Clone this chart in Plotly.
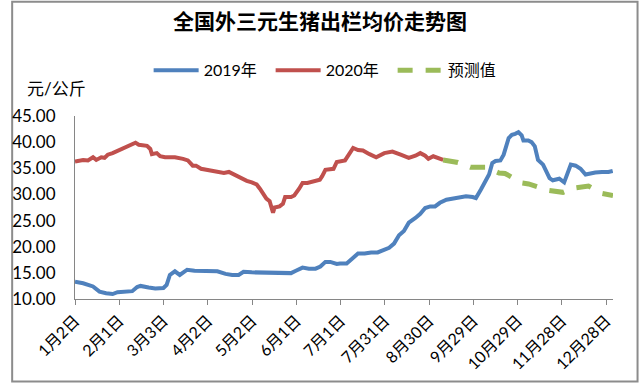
import plotly.graph_objects as go

# x = days since Jan 2
tick_days = [0, 30, 60, 90, 120, 150, 180, 210, 240, 270, 300, 330, 360]
tick_labels = ["1月2日", "2月1日", "3月3日", "4月2日", "5月2日", "6月1日", "7月1日",
               "7月31日", "8月30日", "9月29日", "10月29日", "11月28日", "12月28日"]

days_2019 = [0, 5.5, 12.2, 16.6, 21.1, 25.5, 28.8, 34.4, 38.8, 42.1, 44.4, 49.9, 54.4, 59.9,
             62.1, 64.3, 67.7, 71, 73.2, 76, 81, 87.6, 93.1, 96.5, 102, 106.5, 110.9, 114.2,
             119.8, 126.4, 130.9, 139.7, 146.4, 149.7, 154.2, 158.5, 163, 166.3, 169.7, 173,
             177.4, 179.6, 184.1, 187.4, 191.8, 196.3, 200.7, 205.1, 209.6, 212.9, 216.2,
             219.6, 222.9, 226.2, 230.7, 234, 237.3, 240.7, 244, 247.3, 251.7, 255, 259.5,
             265, 269.5, 271.7, 275, 278.3, 280.6, 282.8, 285, 288.3, 290.5, 293.9, 296.1,
             298.3, 300.5, 302.7, 303.9, 307.2, 309.4, 311.6, 313.8, 317.2, 319.4, 321.6,
             323.8, 328.2, 331.5, 333.8, 336, 339.3, 342.6, 346, 349.3, 352.6, 357.1, 361.5, 364.4]
price_2019 = [13.3, 13.0, 12.4, 11.4, 11.1, 10.95, 11.3, 11.4, 11.5, 12.3, 12.5, 12.2, 12.0, 12.1,
              12.7, 14.6, 15.3, 14.6, 15.1, 15.6, 15.4, 15.4, 15.4, 15.3, 14.8, 14.6, 14.6, 15.2,
              15.1, 15.1, 14.95, 14.95, 14.95, 15.4, 16.0, 15.8, 15.8, 16.2, 17.1, 17.1,
              16.7, 16.8, 16.8, 17.6, 18.7, 18.7, 18.9, 18.9, 19.4, 19.8, 20.6,
              22.2, 23.0, 24.6, 25.5, 26.3, 27.4, 27.7, 27.7, 28.4, 29.0, 29.2, 29.5,
              29.65, 29.5, 29.3, 30.9, 32.5, 33.8, 36.0, 36.4, 36.5, 37.6, 40.8, 41.4,
              41.6, 41.9, 41.3, 40.3, 40.3, 40.0, 39.2, 36.6, 35.7, 34.4, 33.1,
              32.7, 33.0, 32.3, 33.8, 35.7, 35.5, 34.9, 33.8, 34.1, 34.2, 34.3, 34.3, 34.5]

days_2020 = [0, 5.5, 8.8, 12.2, 14.4, 17.8, 20, 22.2, 25.5, 30, 34.4, 38.8, 41, 43.2, 48.8, 51,
             52.1, 55.4, 57.7, 61, 67.7, 73.2, 76.5, 79.8, 82, 85.4, 88.7, 91, 96.5, 100.9,
             104.3, 107.6, 109.8, 113.1, 116.4, 119.8, 123.1, 125.3, 127.5, 129.7, 131.9,
             133.1, 134.2, 135.3, 138.6, 140.9, 142.4, 146.4, 148.6, 151.9, 154.2, 157.5,
             161.9, 165.9, 167.5, 169.7, 175.2, 177.4, 183, 185.2, 188.5, 191.8, 195.1,
             199.6, 204.1, 209.6, 215.1, 220.7, 226.2, 230.7, 234, 237.3, 239.5, 242.8,
             246.2, 249.5]
price_2020 = [36.3, 36.6, 36.5, 37.1, 36.6, 37.1, 37.0, 37.6, 37.9, 38.5, 39.0, 39.5, 39.9, 39.5,
              39.3, 38.7, 37.7, 37.9, 37.3, 37.1, 37.1, 36.8, 36.5, 35.5, 35.5, 34.9, 34.7,
              34.6, 34.3, 34.1, 34.3, 33.8, 33.6, 32.9, 32.6, 32.3, 31.9, 31.1, 30.0, 29.2,
              28.7, 27.7, 26.5, 27.5, 27.7, 28.2, 29.5, 29.5, 29.8, 31.1, 32.2, 32.2, 32.6,
              32.8, 33.5, 34.7, 34.9, 36.2, 36.5, 37.6, 38.9, 38.5, 38.4, 37.7, 37.1, 37.9,
              38.2, 37.6, 37.0, 37.4, 37.9, 37.4, 36.8, 37.3, 37.0, 36.6]

days_fc = [249.5, 259.5, 268.1, 278.1, 287.4, 291.4, 294.1, 302.7, 307.4, 311.4, 320.7, 330.7,
           338, 348, 357.3, 364.6]
price_fc = [36.6, 36.1, 35.2, 35.2, 34.1, 34.0, 33.6, 32.2, 32.0, 31.6, 30.8, 30.4,
            31.2, 31.6, 30.2, 29.8]

FONT = "Lato, 'Noto Sans CJK SC', sans-serif"

fig = go.Figure()
fig.add_trace(go.Scatter(x=days_2019, y=price_2019, mode="lines", name="2019年",
                         line=dict(color="#4F81BD", width=4)))
fig.add_trace(go.Scatter(x=days_2020, y=price_2020, mode="lines", name="2020年",
                         line=dict(color="#C0504D", width=4)))
fig.add_trace(go.Scatter(x=days_fc, y=price_fc, mode="lines", name="预测值",
                         line=dict(color="#9BBB59", width=5, dash="15px,13px")))

fig.update_layout(
    width=640, height=385,
    margin=dict(l=65, r=27, t=116, b=85),
    paper_bgcolor="white", plot_bgcolor="white",
    font=dict(family=FONT, size=16, color="#000000"),
    title=dict(text="全国外三元生猪出栏均价走势图", x=0.5, xanchor="center",
               y=1 - 22 / 385, yanchor="middle",
               font=dict(family="'Noto Sans CJK SC', sans-serif", size=21, color="#000000",
                         weight=600)),
    legend=dict(orientation="h", x=(140 - 65) / 548, xanchor="left",
                y=(300 - 70) / 184, yanchor="middle", entrywidth=62, entrywidthmode="pixels",
                itemwidth=45, font=dict(size=16), bgcolor="rgba(0,0,0,0)"),
    xaxis=dict(range=[0, 364.6], tickmode="array", tickvals=tick_days, ticktext=tick_labels,
               tickangle=-45, showgrid=False, zeroline=False, showline=True,
               linecolor="#868686", linewidth=1, ticks="outside", ticklen=5,
               tickcolor="#868686", tickfont=dict(size=16)),
    yaxis=dict(range=[10, 45], dtick=5, tick0=10, tickformat=".2f", showgrid=False,
               zeroline=False, showline=True, linecolor="#868686", linewidth=1,
               ticks="", ticklabelstandoff=15, tickfont=dict(size=17)),
    showlegend=True,
)

fig.add_annotation(text="元/公斤", xref="paper", yref="paper", x=(46 - 65) / 548,
                   y=(300 - 88) / 184, showarrow=False, font=dict(size=17),
                   xanchor="center", yanchor="middle")

# outer chart border
fig.add_shape(type="rect", xref="paper", yref="paper",
              x0=(1 - 65) / 548, x1=(638 - 65) / 548,
              y0=(300 - 383) / 184, y1=(300 - 1) / 184,
              line=dict(color="#8c8c8c", width=2), fillcolor="rgba(0,0,0,0)", layer="below")

fig.write_html("out.html", config={"displayModeBar": False},
               post_script="document.body.style.margin='0px';")
